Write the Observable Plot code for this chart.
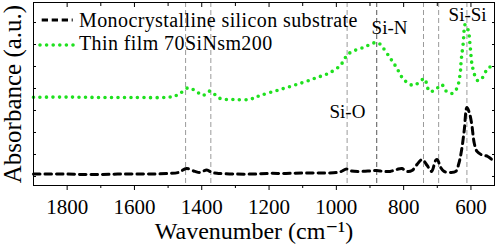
<!DOCTYPE html>
<html><head><meta charset="utf-8">
<script src="https://cdn.jsdelivr.net/npm/d3@7"></script>
<script src="https://cdn.jsdelivr.net/npm/@observablehq/plot@0.6"></script>
<style>body{margin:0;background:#fff} #chart{width:498px;height:246px}</style>
</head><body><div id="chart"></div>
<script>
const subWavenumber = [1900,1850,1800,1750,1700,1650,1600,1550,1500,1470,1445,1420,1405,1385,1370,1350,1300,1250,1200,1150,1100,1050,1000,985,970,955,930,900,880,860,840,820,805,790,775,760,745,730,717,705,700,690,680,660,645,636,628,620,612,605,598,590,582,570,550,535];
const subAbsorbance = [0.11,0.11,0.11,0.09,0.09,0.11,0.11,0.11,0.14,0.18,0.36,0.23,0.18,0.30,0.18,0.14,0.11,0.11,0.14,0.14,0.16,0.16,0.18,0.23,0.34,0.25,0.23,0.25,0.27,0.23,0.23,0.32,0.36,0.23,0.27,0.55,0.77,0.50,0.23,0.73,0.77,0.41,0.23,0.18,0.23,0.59,1.18,2.09,3.14,2.91,2.41,1.50,1.14,1.00,0.91,0.73];
const filmWavenumber = [1900,1800,1700,1600,1500,1480,1465,1440,1415,1397,1376,1346,1307,1257,1227,1168,1108,1057,1018,988,973,958,920,878,860,839,821,800,771,755,738,730,723,705,687,675,657,642,632,629,623,617,608,602,595,580,568,550,533];
const filmAbsorbance = [3.60,3.61,3.59,3.59,3.60,3.66,3.77,4.03,3.86,3.68,3.88,3.55,3.50,3.51,3.68,3.95,4.23,4.50,4.73,5.05,5.41,5.64,5.86,6.09,5.82,5.36,4.95,4.41,4.14,4.27,4.45,4.09,3.86,3.95,4.18,3.90,3.77,4.00,4.68,5.27,6.05,6.91,6.64,5.86,4.95,4.36,4.45,4.91,5.05];
const peakLines = [1448, 1373, 968, 880, 741, 696, 612];
const bandLabels = ["Si-O", "Si-N", "Si-Si"];
const bandWavenumber = [967, 842, 610];
const bandLevel = [2.95, 6.77, 7.36];
const xMajorTicks = [1800, 1600, 1400, 1200, 1000, 800, 600];
const xMinorTicks = [1700, 1500, 1300, 1100, 900, 700];
const yTicks = [0, 1, 2, 3, 4, 5, 6, 7];
const seriesNames = ["Monocrystalline silicon substrate", "Thin film 70SiNsm200"];
const xLabel = "Wavenumber (cm\u207B\u00B9)";
const yLabel = "Absorbance (a.u.)";

const sub = subWavenumber.map((w, i) => ({w, a: subAbsorbance[i]}));
const film = filmWavenumber.map((w, i) => ({w, a: filmAbsorbance[i]}));
const bands = bandLabels.map((t, i) => ({t, w: bandWavenumber[i], a: bandLevel[i]}));
const font = "Liberation Serif, Times New Roman, Tinos, DejaVu Serif, serif";
const green = "#1fe01f";
const noText = () => "";

const plot = Plot.plot({
  width: 498, height: 246,
  marginLeft: 33, marginRight: 4, marginTop: 2, marginBottom: 61,
  style: {fontFamily: font, fontSize: "21px", background: "white", color: "black", overflow: "visible"},
  x: {domain: [1900, 530]},
  y: {domain: [-0.41, 7.91]},
  marks: [
    Plot.ruleX(peakLines.filter(d => d !== 880), {stroke: "#9a9a9a", strokeDasharray: "5,3", strokeWidth: 1}),
    Plot.ruleX(peakLines.filter(d => d === 880), {stroke: "#555", strokeDasharray: "5,3", strokeWidth: 1}),
    Plot.line(sub, {x: "w", y: "a", stroke: "black", strokeWidth: 3, strokeDasharray: "6.5,5", curve: "catmull-rom"}),
    Plot.line(film, {x: "w", y: "a", stroke: green, strokeWidth: 3.6, strokeDasharray: "0,6.5", strokeLinecap: "round", curve: "catmull-rom"}),
    Plot.text(bands, {x: "w", y: "a", text: "t", fontSize: 19, fontFamily: font, fill: "black"}),
    Plot.frame({stroke: "black"}),
    Plot.axisX(xMajorTicks, {anchor: "bottom", tickSize: 5, tickPadding: 9, fontSize: 21, fontFamily: font, fontVariant: "normal", tickFormat: d => String(d), label: null}),
    Plot.axisX(xMinorTicks, {anchor: "bottom", tickSize: 3, tickFormat: noText, label: null}),
    Plot.axisX(xMajorTicks, {anchor: "top", tickSize: -4, tickFormat: noText, label: null}),
    Plot.axisX(xMinorTicks, {anchor: "top", tickSize: -3, tickFormat: noText, label: null}),
    Plot.axisY(yTicks, {anchor: "left", tickSize: -3, tickFormat: noText, label: null}),
    Plot.axisY(yTicks, {anchor: "right", tickSize: -3, tickFormat: noText, label: null}),
    Plot.text([yLabel], {frameAnchor: "left", rotate: -90, dx: -12.6, lineAnchor: "bottom", fontSize: 25, fontFamily: font, textAnchor: "middle", fill: "black"}),
    Plot.text([xLabel], {frameAnchor: "bottom", dy: 53, dx: -10, lineAnchor: "bottom", fontSize: 24, fontFamily: font, fill: "black", letterSpacing: 0.5})
  ]
});

// legend drawn inside the plot area
const svg = d3.select(plot);
const lg = svg.append("g").style("font-family", font).attr("font-size", 20).attr("fill", "black").attr("text-anchor", "start");
const legendItems = [
  {name: seriesNames[0], stroke: "black", width: 3, dash: "6.3,3.7", cap: "butt", x1: 41.7, x2: 72.7, y: 20, ty: 27.3},
  {name: seriesNames[1], stroke: green, width: 3.6, dash: "0,6.6", cap: "round", x1: 40, x2: 74, y: 45, ty: 50}
];
legendItems.forEach(d => {
  lg.append("line").attr("x1", d.x1).attr("x2", d.x2).attr("y1", d.y).attr("y2", d.y)
    .attr("stroke", d.stroke).attr("stroke-width", d.width).attr("stroke-dasharray", d.dash).attr("stroke-linecap", d.cap);
  lg.append("text").attr("x", 79).attr("y", d.ty).attr("text-anchor", "start").attr("letter-spacing", 0.4).text(d.name);
});

document.getElementById("chart").appendChild(plot);
</script>
</body></html>
